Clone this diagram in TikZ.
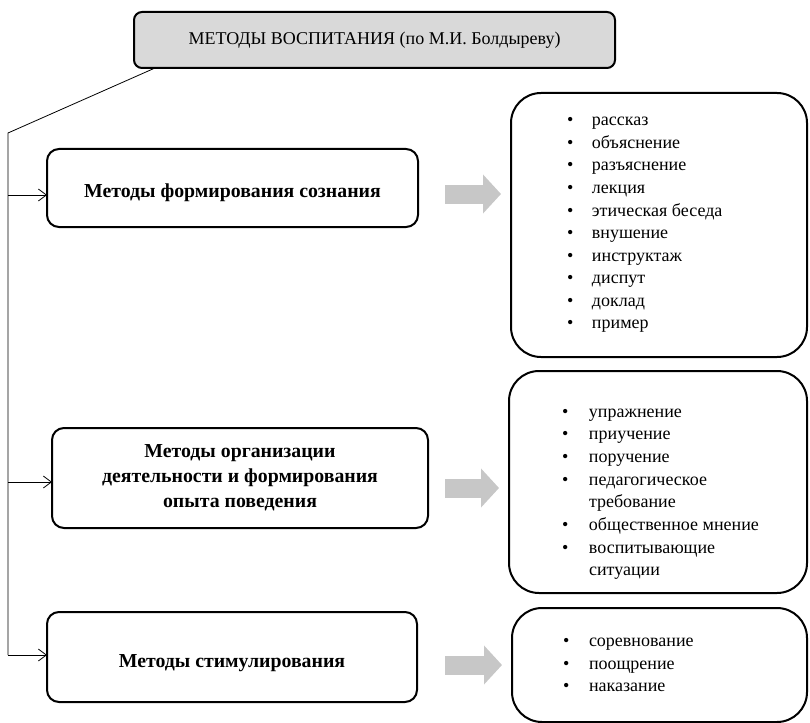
\documentclass[tikz,border=0pt]{standalone}
\usepackage{fontspec}
\setmainfont{Liberation Serif}
\usetikzlibrary{arrows.meta}
\begin{document}
\begin{tikzpicture}
  [x=1pt,y=-1pt,
   every node/.style={inner sep=0pt,outer sep=0pt,font=\fontsize{18}{25}\selectfont},
   box/.style={draw,line width=2pt,rounded corners=12pt,align=center,font=\fontsize{19.8}{25}\selectfont\bfseries},
   listbox/.style={draw,line width=2pt,rounded corners=30pt},
   item/.style={anchor=west,text height=12pt,text depth=4pt},
   bigarrow/.style={draw=black!22,line width=19pt,-{Triangle[length=18pt,width=38pt]}},
   link/.style={line width=0.8pt,-{Straight Barb[length=8pt,width=12pt]}}]
  \useasboundingbox (0,0) rectangle (810,722);

  \node (t) [draw,line width=2pt,fill=black!15,rounded corners=8pt,minimum width=481pt,minimum height=56pt] at (374.5,40) {МЕТОДЫ ВОСПИТАНИЯ (по М.И. Болдыреву)};

  \node (m1) [box,minimum width=371pt,minimum height=78pt,text height=23pt,text depth=4pt] at (232.5,188) {Методы формирования сознания};
  \node (m2) [box,minimum width=376pt,minimum height=100pt] at (240,478) {Методы организации\\деятельности и формирования\\опыта поведения};
  \node (m3) [box,minimum width=370pt,minimum height=90pt,text height=25pt,text depth=4pt] at (232,657) {Методы стимулирования};

  \node (l1) [listbox,minimum width=296pt,minimum height=264pt] at (659,225) {};
  \node (l2) [listbox,minimum width=298pt,minimum height=222pt] at (658,482) {};
  \node (l3) [listbox,minimum width=295pt,minimum height=114pt] at (659.5,665) {};

  \foreach \txt [count=\i] in {рассказ,объяснение,разъяснение,лекция,этическая беседа,внушение,инструктаж,диспут,доклад,пример}
    \node[item] (a\i) at (567,99.5+22.5*\i) {\makebox[25pt][l]{•}\txt};
  \foreach \b/\txt [count=\i] in {•/упражнение,•/приучение,•/поручение,•/педагогическое,/требование,•/общественное мнение,•/воспитывающие,/ситуации}
    \node[item] (b\i) at (562,390.3+22.7*\i) {\makebox[27pt][l]{\b}\txt};
  \foreach \txt [count=\i] in {соревнование,поощрение,наказание}
    \node[item] (c\i) at (563,619.5+22.8*\i) {\makebox[26pt][l]{•}\txt};

  \coordinate (k) at (8,133);
  \coordinate (j1) at (8,195);
  \coordinate (j2) at (8,482);
  \coordinate (j3) at (8,655);
  \draw[line width=0.8pt] ([xshift=21pt]t.south west) -- (k) -- (j3);
  \foreach \j/\m in {j1/m1,j2/m2,j3/m3}
    \draw[link] (\j) -- (\j -| \m.west);

  \coordinate (g1) at (445,194);
  \coordinate (g2) at (445,488);
  \coordinate (g3) at (445,665);
  \foreach \g/\l in {g1/l1,g2/l2,g3/l3}
    \draw[bigarrow,shorten >=10pt] (\g) -- (\g -| \l.west);

\end{tikzpicture}
\end{document}
